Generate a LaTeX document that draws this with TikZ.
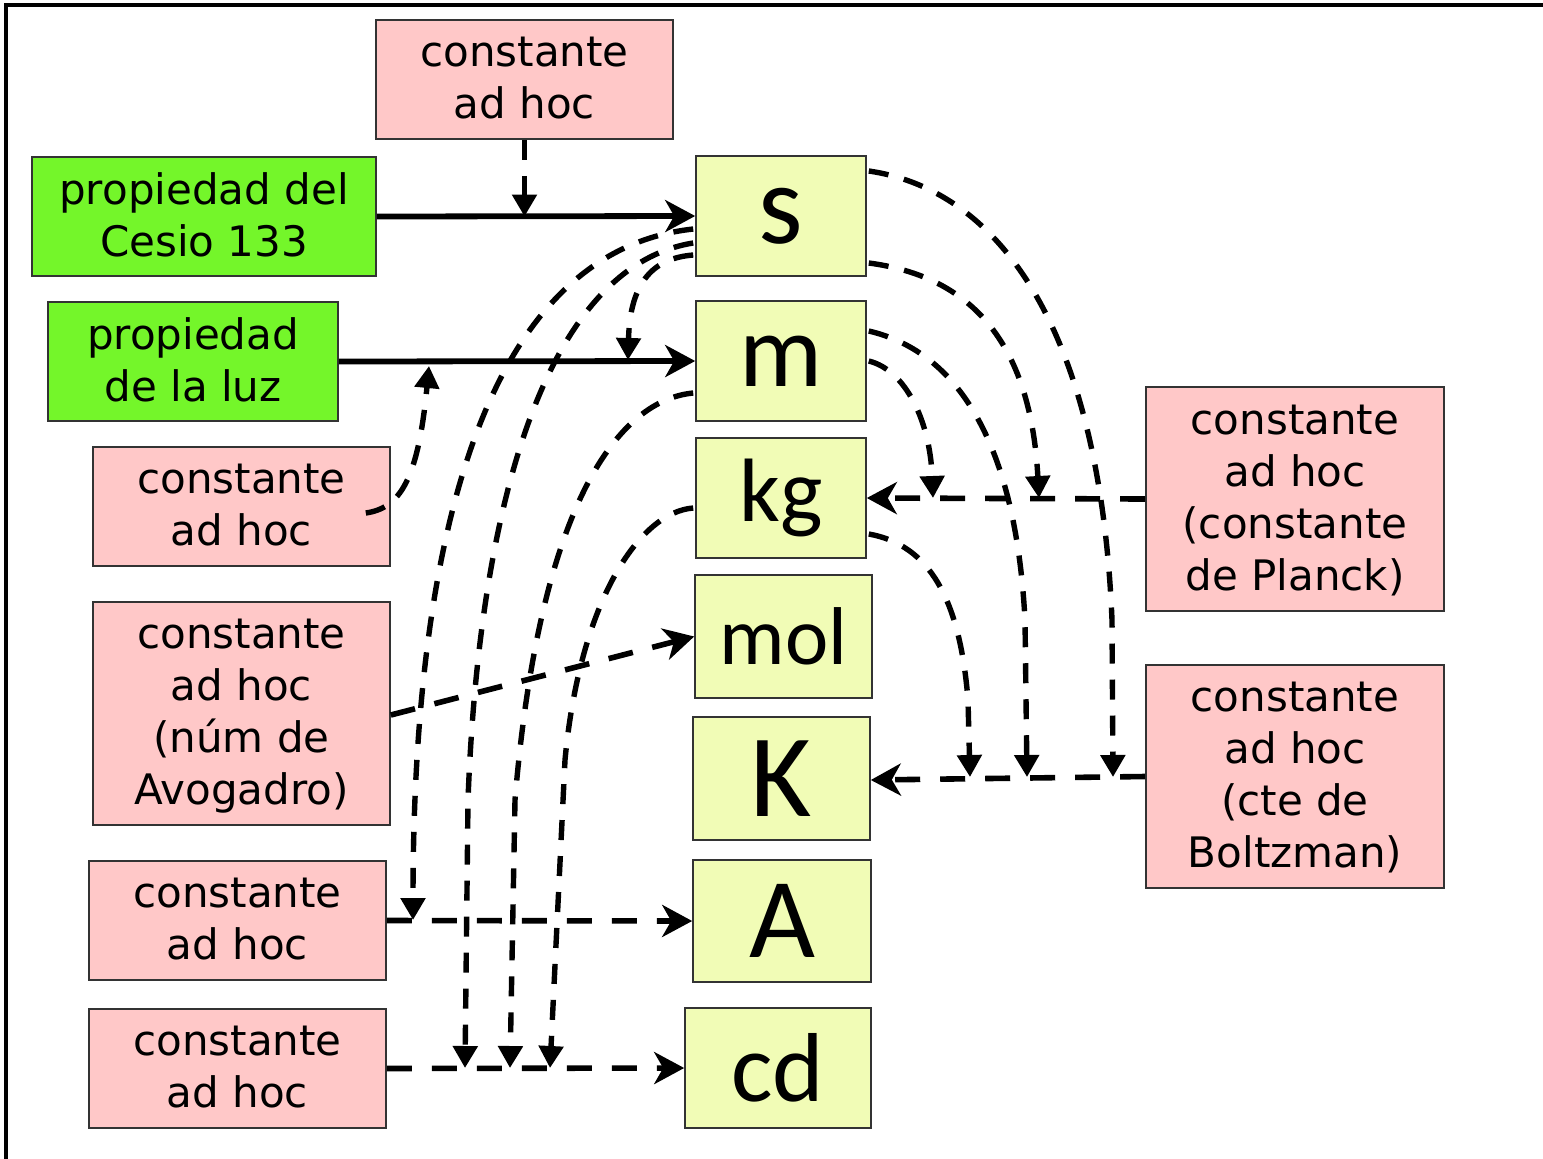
\documentclass[tikz,border=0pt]{standalone}
\usepackage{fontspec}
\setmainfont{DejaVu Sans}
\newfontfamily\bigfont{Carlito}
\usetikzlibrary{arrows.meta}
\definecolor{pinkc}{RGB}{255,200,200}
\definecolor{greenc}{RGB}{116,246,42}
\definecolor{yellowc}{RGB}{241,252,182}
\newcommand\mybox[7]{%
  \pgfmathsetmacro\bw{(#5-#3)*0.5}%
  \pgfmathsetmacro\bh{(#6-#4)*0.5}%
  \node[#1, minimum width=\bw pt, minimum height=\bh pt] (#2) at ({(#3+#5)/2},{(#4+#6)/2}) {#7};}
\begin{document}
\begin{tikzpicture}[x=0.5pt,y=-0.5pt,
  bx/.style={draw=black!80, line width=0.8pt, inner sep=0pt, align=center, font=\fontsize{21}{26}\selectfont},
  pinkbox/.style={bx, fill=pinkc, text depth=1.5pt},
  greenbox/.style={bx, fill=greenc, text depth=1.5pt},
  unitbox/.style={bx, fill=yellowc},
  solidarr/.style={line width=2.9pt, -{Stealth[length=15pt,width=16pt,inset=4.5pt]}},
  dasharr/.style={line width=2.8pt, dash pattern=on 12.5pt off 10pt, -{Stealth[length=15pt,width=16pt,inset=4.5pt]}},
  dropl/.style={line width=2.7pt, dash pattern=on 10pt off 8pt, -{Triangle[length=11pt,width=12pt]}},
]
\useasboundingbox (0,0) rectangle (1543,1158);
\draw[line width=1.6pt] (6,1162) -- (6,5) -- (1547,5);

% left boxes
\mybox{pinkbox}{top}{376}{20}{673}{139}{constante\\ad hoc}
\mybox{greenbox}{cesio}{32}{157}{376}{276}{propiedad del\\Cesio 133}
\mybox{greenbox}{luz}{48}{302}{338}{421}{propiedad\\de la luz}
\mybox{pinkbox}{ah1}{93}{447}{390}{566}{constante\\ad hoc}
\mybox{pinkbox}{avog}{93}{602}{390}{825}{constante\\ad hoc\\(núm de\\Avogadro)}
\mybox{pinkbox}{ahA}{89}{861}{386}{980}{constante\\ad hoc}
\mybox{pinkbox}{ahcd}{89}{1009}{386}{1128}{constante\\ad hoc}

% unit boxes
\mybox{unitbox,font=\bigfont\fontsize{57}{60}\selectfont}{s}{696}{156}{866}{276}{s}
\mybox{unitbox,font=\bigfont\fontsize{52}{60}\selectfont}{m}{696}{301}{866}{421}{m}
\mybox{unitbox,font=\bigfont\fontsize{45}{60}\selectfont}{kg}{696}{438}{866}{558}{kg}
\mybox{unitbox,font=\bigfont\fontsize{41}{60}\selectfont}{mol}{695}{575}{872}{698}{mol}
\mybox{unitbox,font=\bigfont\fontsize{59}{60}\selectfont}{K}{693}{717}{870}{840}{K}
\mybox{unitbox,font=\bigfont\fontsize{57}{60}\selectfont}{A}{693}{860}{871}{982}{A}
\mybox{unitbox,font=\bigfont\fontsize{49}{60}\selectfont}{cd}{685}{1008}{871}{1128}{cd}

% right boxes
\mybox{pinkbox}{planck}{1146}{387}{1444}{611}{constante\\ad hoc\\(constante\\de Planck)}
\mybox{pinkbox}{boltz}{1146}{665}{1444}{888}{constante\\ad hoc\\(cte de\\Boltzman)}

% target points on the horizontal connectors
\coordinate (tm) at (628,360);
\coordinate (tluz) at (429,366);
\coordinate (tA) at (413,920);
\coordinate (tcd1) at (465,1068);
\coordinate (tcd2) at (510,1068);
\coordinate (tcd3) at (550,1068);
\coordinate (tkg1) at (933,498);
\coordinate (tkg2) at (1039,498);
\coordinate (tK1) at (970,777);
\coordinate (tK2) at (1027,777);
\coordinate (tK3) at (1113,777);

% main connectors
\draw[solidarr] (cesio.east) -- (s.west);
\draw[solidarr] (luz.east) -- (m.west);
\draw[dropl] (top.south) -- (top.south |- cesio.east);
\draw[dasharr] ([yshift=-0.75pt]avog.east) -- (mol.west);
\draw[dasharr] (ahA.east) -- (A.west);
\draw[dasharr] (ahcd.east) -- (cd.west);
\draw[dasharr] (planck.west) -- (kg.east);
\draw[dasharr] (boltz.west) -- ([yshift=-0.75pt]K.east);

% curved connectors on the left
\draw[dropl] ([xshift=-12.5pt,yshift=-3.25pt]ah1.east) .. controls (400,508) and (418,480) .. (tluz);
\draw[dropl] ([xshift=-1pt,yshift=-19.5pt]s.west) .. controls (655,258) and (630,280) .. (tm);
\draw[dropl] ([xshift=-1pt,yshift=-6.5pt]s.west) .. controls (500,250) and (413,500) .. (tA);
\draw[dropl] ([xshift=-1pt,yshift=-13.5pt]s.west) .. controls (555,265) and (480,480) .. (468,800) -- (tcd1);
\draw[dropl] ([xshift=-1pt,yshift=-16pt]m.west) .. controls (620,400) and (540,500) .. (515,800) -- (tcd2);
\draw[dropl] ([xshift=-1pt,yshift=-5pt]kg.west) .. controls (640,512) and (580,600) .. (565,760) -- (tcd3);

% curved connectors on the right
\draw[dropl] ([xshift=1pt,yshift=22.5pt]s.east) .. controls (1000,190) and (1100,330) .. (1112,620) -- (tK3);
\draw[dropl] ([xshift=1pt,yshift=-23.5pt]s.east) .. controls (960,275) and (1030,330) .. (tkg2);
\draw[dropl] ([xshift=1pt,yshift=15pt]m.east) .. controls (950,350) and (1015,430) .. (1025,620) -- (tK2);
\draw[dropl] ([xshift=1pt]m.east) .. controls (905,370) and (930,420) .. (tkg1);
\draw[dropl] ([xshift=1pt,yshift=-18pt]kg.east) .. controls (930,545) and (960,600) .. (968,700) -- (tK1);
\end{tikzpicture}
\end{document}
